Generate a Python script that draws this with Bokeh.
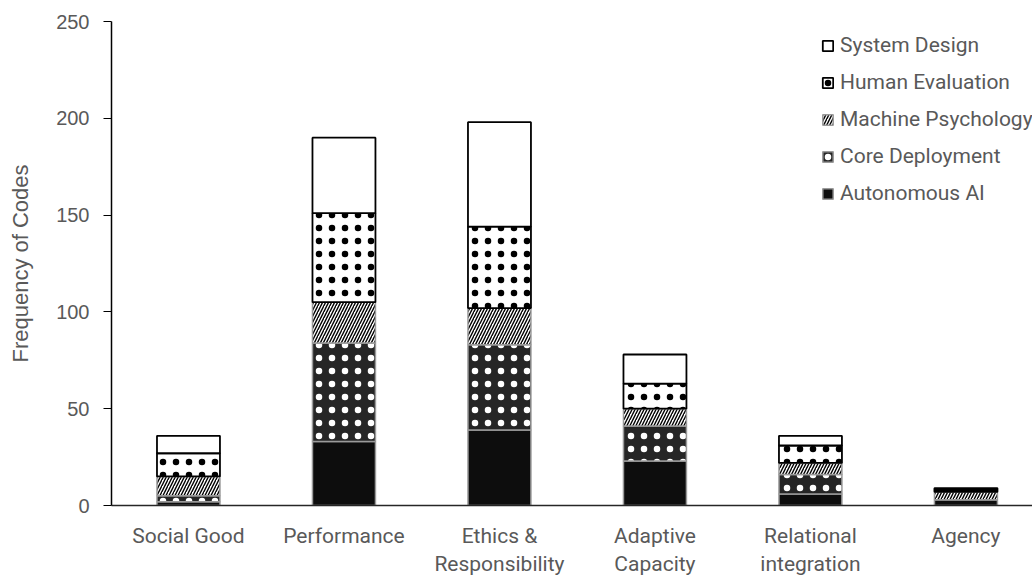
from bokeh.plotting import figure
from bokeh.models import ColumnDataSource, Range1d, FixedTicker, Legend, LegendItem
from bokeh.transform import stack
from bokeh.embed import file_html
from bokeh.resources import INLINE

categories = ["Social Good", "Performance", "Ethics &\nResponsibility",
              "Adaptive\nCapacity", "Relational\nintegration", "Agency"]
autonomous_ai = [2, 33, 39, 23, 6, 3]
core_deployment = [3, 51, 44, 18, 10, 0]
machine_psychology = [10, 21, 19, 9, 6, 4]
human_evaluation = [12, 46, 42, 13, 9, 1]
system_design = [9, 39, 54, 15, 5, 1]
y_ticks = [0, 50, 100, 150, 200, 250]

series_names = ["autonomous", "core", "machine", "human", "system"]
series_labels = ["Autonomous AI", "Core Deployment", "Machine Psychology",
                 "Human Evaluation", "System Design"]

source = ColumnDataSource(dict(
    x=list(range(len(categories))),
    autonomous=autonomous_ai,
    core=core_deployment,
    machine=machine_psychology,
    human=human_evaluation,
    system=system_design,
))

p = figure(frame_width=921, frame_height=484, output_backend="svg",
           toolbar_location=None,
           x_range=Range1d(-0.495, 5.428), y_range=Range1d(0, 250),
           min_border_left=111, min_border_top=21, min_border_right=0,
           min_border_bottom=64)

styles = [
    dict(fill_color="#0d0d0d", line_color="#9a9a9a", line_width=1.5),
    dict(fill_color="#262626", line_color="#9a9a9a", line_width=1.5,
         hatch_pattern="dot", hatch_color="white", hatch_scale=13, hatch_weight=1.1),
    dict(fill_color="white", line_color="#9a9a9a", line_width=1.5,
         hatch_pattern="/", hatch_color="black", hatch_scale=6, hatch_weight=1.4),
    dict(fill_color="white", line_color="black", line_width=1.8,
         hatch_pattern="dot", hatch_color="black", hatch_scale=13, hatch_weight=1.1),
    dict(fill_color="white", line_color="black", line_width=1.8),
]

renderers = []
for i, name in enumerate(series_names):
    bottom = stack(*series_names[:i]) if i > 0 else 0
    r = p.vbar(x="x", width=0.405, bottom=bottom, top=stack(*series_names[:i + 1]),
               source=source, **styles[i])
    renderers.append(r)

items = [LegendItem(label=series_labels[i], renderers=[renderers[i]])
         for i in reversed(range(len(series_names)))]
legend = Legend(items=items, location=(710, 300), padding=0, spacing=13,
                glyph_width=13, glyph_height=13, label_height=20,
                label_standoff=6, border_line_color=None,
                background_fill_alpha=0,
                label_text_font="Roboto", label_text_font_size="21px",
                label_text_color="#595959")
p.add_layout(legend, "center")

p.xgrid.grid_line_color = None
p.ygrid.grid_line_color = None
p.outline_line_color = None

p.xaxis.ticker = FixedTicker(ticks=list(range(len(categories))))
p.xaxis.major_label_overrides = {i: c for i, c in enumerate(categories)}
p.xaxis.major_tick_line_color = None
p.xaxis.minor_tick_line_color = None
p.xaxis.axis_line_color = "#262626"
p.xaxis.axis_line_width = 1.5
p.xaxis.major_label_text_font = "Roboto"
p.xaxis.major_label_text_font_size = "21px"
p.xaxis.major_label_text_color = "#595959"
p.xaxis.major_label_standoff = 12

p.yaxis.ticker = FixedTicker(ticks=y_ticks)
p.yaxis.minor_tick_line_color = None
p.yaxis.major_tick_out = 8
p.yaxis.major_tick_in = 0
p.yaxis.major_tick_line_color = "black"
p.yaxis.axis_line_color = "black"
p.yaxis.axis_line_width = 1.5
p.yaxis.major_label_text_font = "Liberation Sans"
p.yaxis.major_label_text_font_size = "20px"
p.yaxis.major_label_text_color = "#595959"
p.yaxis.major_label_standoff = 14
p.yaxis.axis_label = "Frequency of Codes"
p.yaxis.axis_label_text_font = "Liberation Sans"
p.yaxis.axis_label_text_font_size = "22px"
p.yaxis.axis_label_text_font_style = "normal"
p.yaxis.axis_label_text_color = "#595959"
p.yaxis.axis_label_standoff = 20

open("out.html", "w").write(file_html(p, INLINE))
